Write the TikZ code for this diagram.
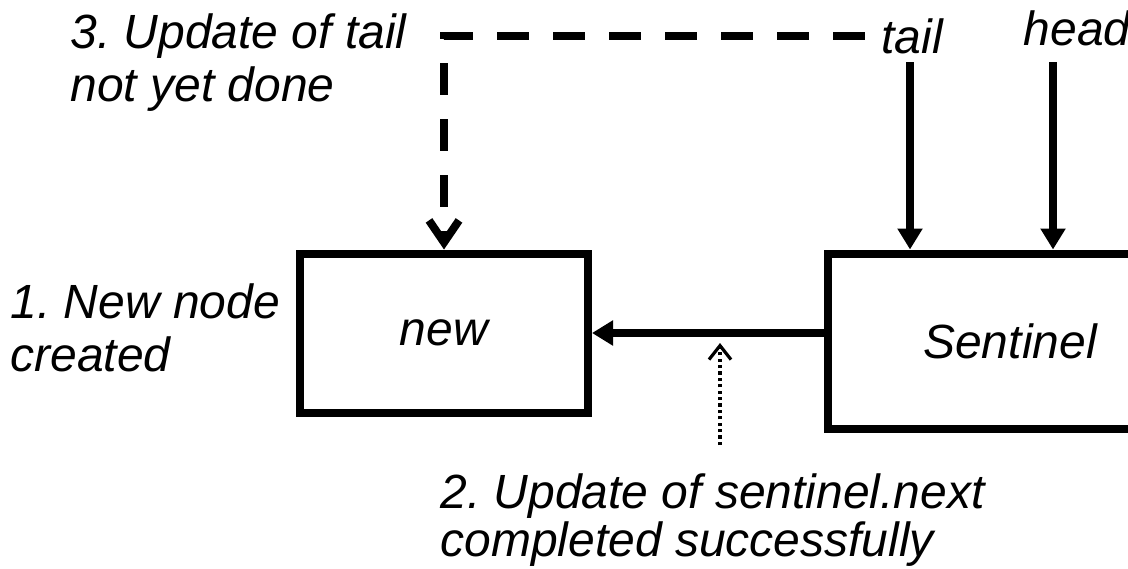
\documentclass[tikz,border=0pt]{standalone}
\usepackage{fontspec}
\setmainfont{Liberation Sans}
\usetikzlibrary{arrows.meta}
\frenchspacing

\begin{document}
\begin{tikzpicture}
	[x=0.5pt,y=-0.5pt,
	 font=\fontsize{24}{26.5}\selectfont\itshape,
	 block/.style={rectangle,draw,line width=4pt,inner sep=0pt},
	 label/.style={inner sep=0pt},
	 note/.style={align=left,inner sep=0pt,anchor=north west},
	 ptr/.style={line width=4pt,-{Triangle[length=10.5pt,width=12pt]}},
	 pending/.style={line width=4pt,dash pattern=on 16pt off 12pt,-{Straight Barb[length=11pt,width=15pt]}},
	 done/.style={line width=1.6pt,dash pattern=on 1.6pt off 1.6pt,-{Straight Barb[length=7pt,width=11pt]}}]
	\useasboundingbox (0,0) rectangle (1128,568);
	\node[block,minimum width=144pt,minimum height=79.5pt] (new) at (444,333) {new};
	\node[block,minimum width=182pt,minimum height=87.75pt] (sentinel) at (1010,341.25) {Sentinel};
	\node[label] (tail) at (912,36) {tail};
	\node[label] (head) at (1077,28) {head};
	\node[note] (step1) at (10,283) {1. New node\\created};
	\node[note,font=\fontsize{24}{24}\selectfont\itshape] (step2) at (440,473) {2. Update of sentinel.next\\completed successfully};
	\node[note] (step3) at (70,13) {3. Update of tail\\not yet done};
	\coordinate (tailptr) at ([xshift=-1pt,yshift=-4pt]tail.south);
	\coordinate (headptr) at ([xshift=-12pt,yshift=-8pt]head.south);
	\coordinate (bend) at ([xshift=-8pt]tail.west);
	\coordinate (chk) at (720,445);
	\draw[ptr] (tailptr) -- (tailptr |- sentinel.north);
	\draw[ptr] (headptr) -- (headptr |- sentinel.north);
	\draw[ptr] (sentinel.west |- new.east) -- (new.east);
	\draw[pending] (bend) -| (new.north);
	\draw[done] (chk) -- ([yshift=-5pt]chk |- new.east);
\end{tikzpicture}
\end{document}
